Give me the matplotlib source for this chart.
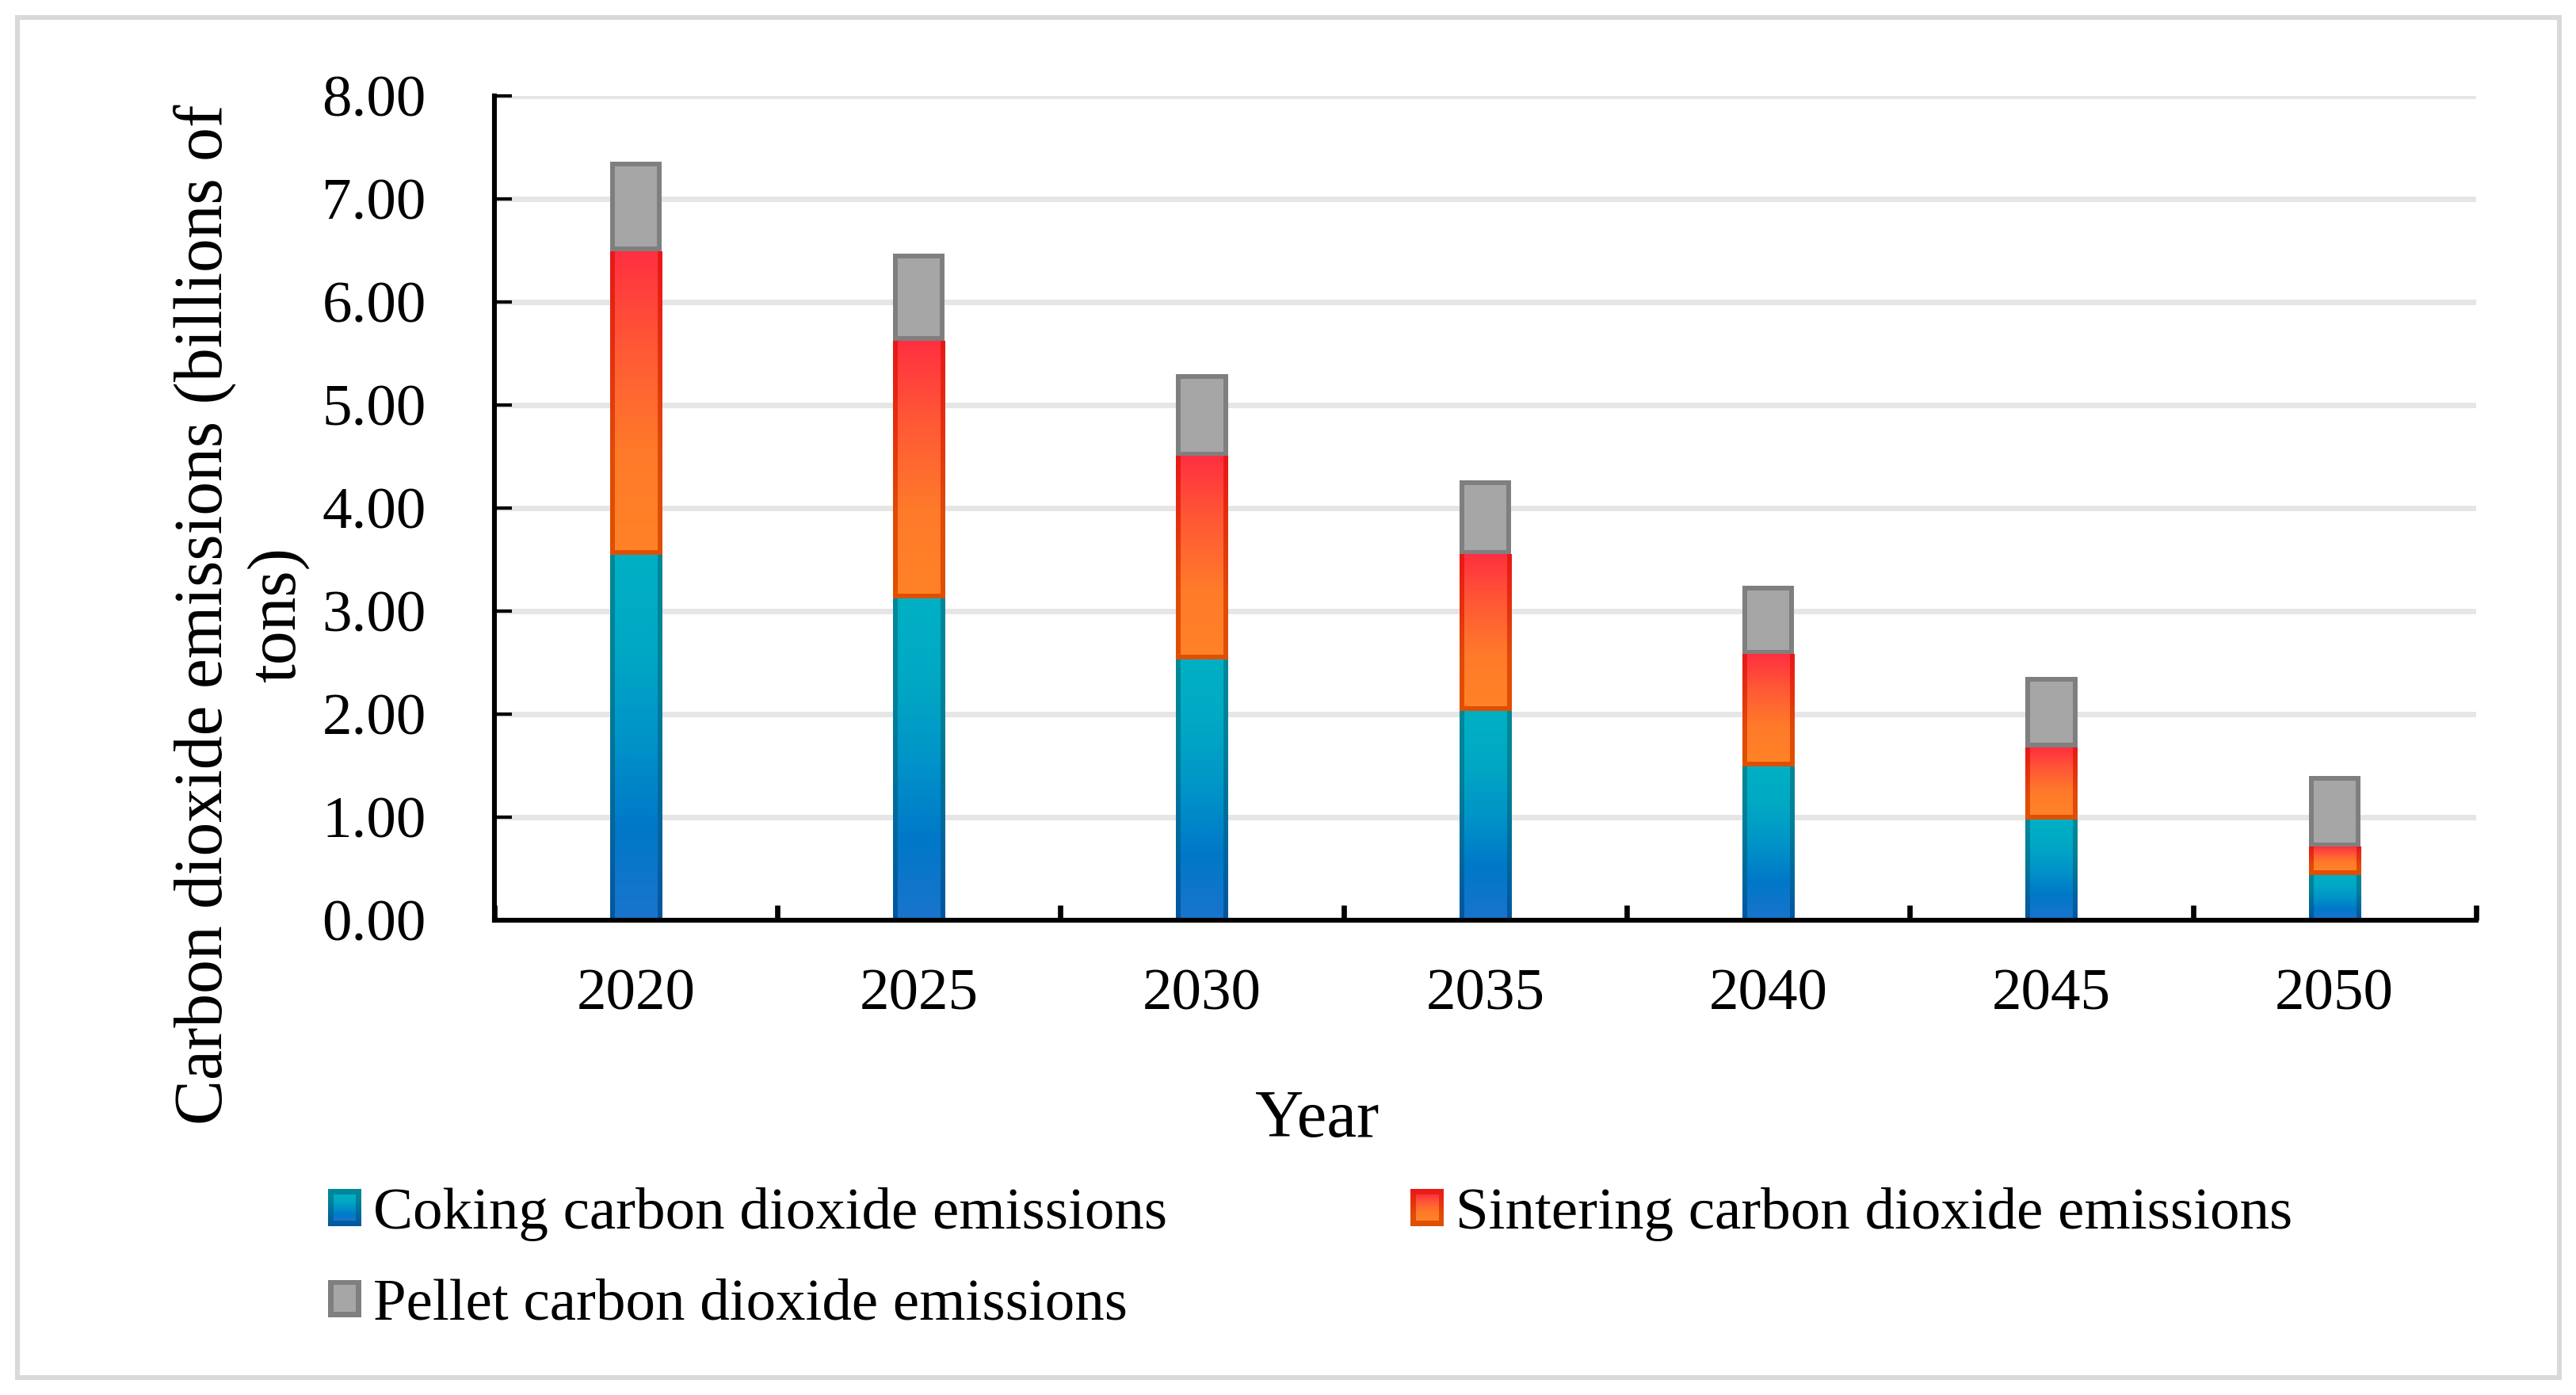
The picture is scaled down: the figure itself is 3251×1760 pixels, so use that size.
import numpy as np
import matplotlib
matplotlib.use('Agg')
import matplotlib.pyplot as plt
from matplotlib.colors import LinearSegmentedColormap
from matplotlib.patches import Rectangle
from matplotlib.legend_handler import HandlerBase

plt.rcParams['font.family'] = ['Liberation Serif', 'DejaVu Serif']

years = ['2020', '2025', '2030', '2035', '2040', '2045', '2050']
coking = [3.55, 3.12, 2.53, 2.03, 1.49, 0.98, 0.44]
sintering = [2.94, 2.50, 1.97, 1.52, 1.09, 0.70, 0.27]
pellet = [0.87, 0.85, 0.80, 0.72, 0.67, 0.68, 0.69]

labels = ['Coking carbon dioxide emissions',
          'Sintering carbon dioxide emissions',
          'Pellet carbon dioxide emissions']

# gradient stops, bottom -> top
coke_fill = ['#1a74ce', '#0078c8', '#0094c8', '#00a8c4', '#00b0c4']
coke_edge = ['#0056a0', '#006a9c', '#008098', '#008898']
sinter_fill = ['#ff8227', '#ff7a2a', '#ff5a35', '#ff3040']
sinter_edge = ['#e05000', '#e04a08', '#e43010', '#e81818']
pellet_fill = '#a6a6a6'
pellet_edge = '#7f7f7f'


class GradHandler(HandlerBase):
    def __init__(self, fill, edge):
        super().__init__()
        self.fill = fill
        self.edge = edge

    def create_artists(self, legend, orig_handle, xdescent, ydescent,
                       width, height, fontsize, trans):
        x0, y0 = -xdescent, -ydescent
        e = 0.16 * width
        arts = []
        boxes = [(self.edge, (x0, y0, width, height)),
                 (self.fill, (x0 + e, y0 + e, width - 2 * e, height - 2 * e))]
        for cols, (bx, by, bw, bh) in boxes:
            cmap = LinearSegmentedColormap.from_list('h', cols)
            n = 16
            for i in range(n):
                arts.append(Rectangle((bx, by + bh * i / n), bw, bh / n * 1.05,
                                      facecolor=cmap((i + 0.5) / n), linewidth=0,
                                      antialiased=False, transform=trans))
        return arts


fig = plt.figure(figsize=(16.255, 8.8), dpi=200)
ax = fig.add_axes([0.1919, 0.3403, 0.7693, 0.5909])
x = np.arange(len(years))
w = 0.183
ax.set_xlim(-0.5, len(years) - 0.5)
ax.set_ylim(0, 8)

b1 = ax.bar(x, coking, w, color='none', linewidth=0, zorder=2)
b2 = ax.bar(x, sintering, w, bottom=coking, color='none', linewidth=0, zorder=2)
b3 = ax.bar(x, pellet, w, bottom=np.add(coking, sintering), color=pellet_edge,
            linewidth=0, zorder=2)

# about 6 px of border in data units
px_x = 6 / (ax.transData.transform((1, 0))[0] - ax.transData.transform((0, 0))[0])
px_y = 6 / (ax.transData.transform((0, 1))[1] - ax.transData.transform((0, 0))[1])


def gradient(x0, x1, y0, y1, colors):
    cmap = LinearSegmentedColormap.from_list('g', colors)
    ax.imshow(np.linspace(0, 1, 200).reshape(-1, 1), cmap=cmap, origin='lower',
              extent=(x0, x1, y0, y1), aspect='auto', interpolation='bilinear',
              zorder=2)


for r in b1:
    x0, y0, bw, bh = r.get_x(), r.get_y(), r.get_width(), r.get_height()
    gradient(x0, x0 + bw, y0, y0 + bh, coke_edge)
    gradient(x0 + px_x, x0 + bw - px_x, y0, y0 + bh, coke_fill)

for r in b2:
    x0, y0, bw, bh = r.get_x(), r.get_y(), r.get_width(), r.get_height()
    gradient(x0, x0 + bw, y0, y0 + bh, sinter_edge)
    gradient(x0 + px_x, x0 + bw - px_x, y0 + px_y, y0 + bh, sinter_fill)

for r in b3:
    x0, y0, bw, bh = r.get_x(), r.get_y(), r.get_width(), r.get_height()
    ax.add_patch(Rectangle((x0 + px_x, y0 + px_y), bw - 2 * px_x, bh - 2 * px_y,
                           facecolor=pellet_fill, linewidth=0, zorder=2.2))

ax.set_xlim(-0.5, len(years) - 0.5)
ax.set_ylim(0, 8)

ax.set_xticks(x)
ax.set_xticklabels(years)
ax.set_xticks(np.arange(-0.5, len(years), 1), minor=True)
ax.tick_params(axis='x', which='major', length=0, pad=22, labelsize=27)
ax.tick_params(axis='x', which='minor', direction='in', length=6.8, width=2.4)
yt = np.arange(0, 9, 1)
ax.set_yticks(yt)
ax.set_yticklabels(['%.2f' % v for v in yt])
ax.tick_params(axis='y', direction='in', length=8, width=1.5, pad=31, labelsize=27)

ax.set_axisbelow(True)
ax.grid(axis='y', color='#e6e6e6', linewidth=2.5)
for s in ['top', 'right']:
    ax.spines[s].set_visible(False)
for s in ['left', 'bottom']:
    ax.spines[s].set_linewidth(2.2)

ax.set_xlabel('Year', fontsize=30.5, va='baseline')
ax.xaxis.set_label_coords(0.415, -0.2625)
ax.set_ylabel('Carbon dioxide emissions (billions of\ntons)', fontsize=30.8,
              va='center', multialignment='center')
ax.yaxis.set_label_coords(-0.1275, 0.371)

hmap = {b1: GradHandler(coke_fill, coke_edge),
        b2: GradHandler(sinter_fill, sinter_edge),
        b3: GradHandler([pellet_fill, pellet_fill], [pellet_edge, pellet_edge])}
fig.legend([b1, b3, b2], [labels[0], labels[2], labels[1]], handler_map=hmap,
           ncol=2, loc='upper left', bbox_to_anchor=(0.1273, 0.1489),
           frameon=False, fontsize=27, handlelength=0.56, handleheight=0.59,
           handletextpad=0.2, columnspacing=4.1, labelspacing=0.63,
           borderpad=0, borderaxespad=0)

# light outer frame
fig.patches.append(Rectangle((22 / 3251, 1 - 1738 / 1760), (3230 - 22) / 3251,
                             (1738 - 22) / 1760, transform=fig.transFigure,
                             fill=False, edgecolor='#d9d9d9', linewidth=2.2))

fig.savefig('out.png', dpi=200)
